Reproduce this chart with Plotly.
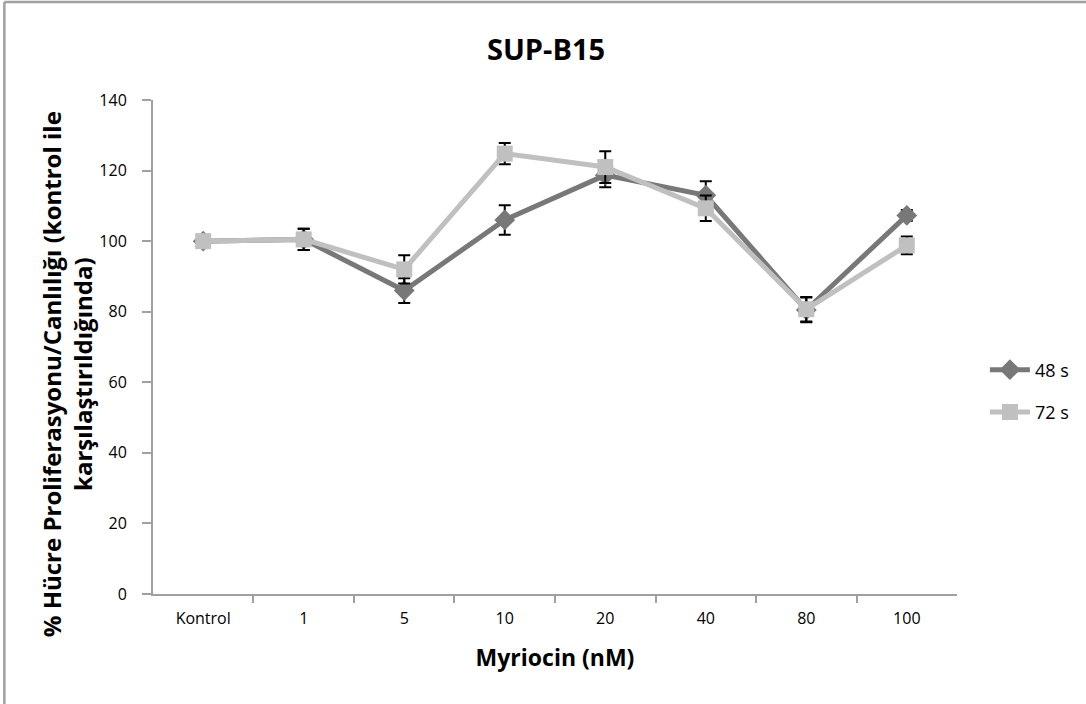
import plotly.graph_objects as go

categories = ["Kontrol", "1", "5", "10", "20", "40", "80", "100"]
vals_48 = [100.0, 100.5, 86.0, 106.0, 118.7, 113.0, 80.5, 107.3]
err_48 = [1.5, 3.0, 3.5, 4.2, 3.4, 4.0, 3.5, 1.5]
vals_72 = [100.0, 100.5, 92.0, 124.8, 121.0, 109.3, 80.7, 98.8]
err_72 = [1.5, 3.0, 4.0, 3.0, 4.5, 3.6, 3.5, 2.5]
y_ticks = [0, 20, 40, 60, 80, 100, 120, 140]

FONT = "Open Sans, Liberation Sans, sans-serif"

L, R, T, B = 153, 127, 100, 110
PW, PH = 1086 - L - R, 704 - T - B

fig = go.Figure()
fig.add_trace(go.Scatter(
    x=categories, y=vals_48, name="48 s", mode="lines+markers",
    line=dict(color="#787878", width=5),
    marker=dict(symbol="diamond", size=16, color="#787878"),
    error_y=dict(type="data", array=err_48, color="black", thickness=2, width=6),
    legendgroup="a",
))
fig.add_trace(go.Scatter(
    x=categories, y=vals_72, name="72 s", mode="lines+markers",
    line=dict(color="#c0c0c0", width=5),
    marker=dict(symbol="square", size=16, color="#c0c0c0"),
    error_y=dict(type="data", array=err_72, color="black", thickness=2, width=6),
    legendgroup="b",
))

fig.update_layout(
    width=1086, height=704,
    paper_bgcolor="white", plot_bgcolor="white",
    margin=dict(l=L, r=R, t=T, b=B),
    font=dict(family=FONT, color="black", size=16),
    title=dict(text="<b>SUP-B15</b>", x=(547 - L) / PW, xanchor="center", xref="paper",
               y=(704 - 50) / 704, yanchor="middle", font=dict(size=29, family=FONT)),
    showlegend=True,
    legend=dict(x=1 + 28 / PW, y=(594 - 391) / PH, xanchor="left", yanchor="middle",
                font=dict(size=18, family=FONT), tracegroupgap=16,
                itemwidth=40, bgcolor="rgba(0,0,0,0)"),
    xaxis=dict(
        type="category", showline=True, linecolor="#a0a0a0", linewidth=2,
        ticks="outside", tickson="boundaries", ticklen=7, tickcolor="#a0a0a0",
        tickwidth=1.5, showgrid=False, zeroline=False, ticklabelstandoff=9,
        tickfont=dict(size=16, family=FONT),
        title=dict(text="<b>Myriocin (nM)</b>", font=dict(size=23, family=FONT), standoff=22),
    ),
    yaxis=dict(
        range=[0, 140], tickvals=y_ticks, showline=True, linecolor="#a0a0a0",
        linewidth=2, ticks="outside", ticklen=9, tickcolor="#a0a0a0", tickwidth=1.5,
        showgrid=False, zeroline=False, tickfont=dict(size=16, family=FONT),
        ticklabelstandoff=12,
    ),
    annotations=[
        dict(text="<b>% Hücre Proliferasyonu/Canlılığı (kontrol ile<br>karşılaştırıldığında)</b>",
             xref="paper", yref="paper", x=-(L - 67) / PW, y=(594 - 374) / PH,
             xanchor="center", yanchor="middle", textangle=-90, showarrow=False,
             font=dict(size=24, family=FONT)),
    ],
    shapes=[
        dict(type="line", xref="paper", yref="paper", x0=-(L - 4) / PW, x1=1.3,
             y0=1 + (T - 2) / PH, y1=1 + (T - 2) / PH,
             line=dict(color="#a0a0a0", width=2.5)),
        dict(type="line", xref="paper", yref="paper", x0=-(L - 4) / PW, x1=-(L - 4) / PW,
             y0=-0.3, y1=1 + (T - 2) / PH,
             line=dict(color="#a0a0a0", width=2.5)),
    ],
)

fig.write_html("out.html", config={"displayModeBar": False},
               post_script="document.body.style.margin='0';document.body.style.padding='0';")
